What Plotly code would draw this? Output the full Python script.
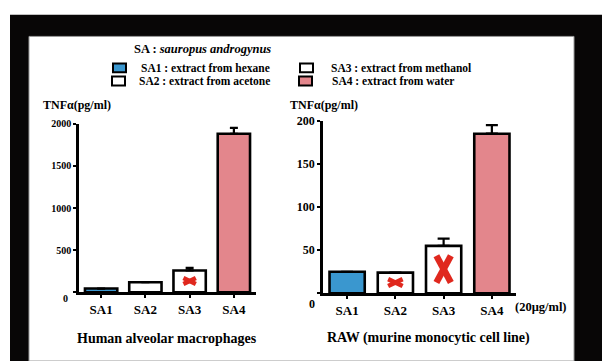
import plotly.graph_objects as go

# ---- data -------------------------------------------------------------
categories = ["SA1", "SA2", "SA3", "SA4"]
bar_colors = ["#3a97cf", "#ffffff", "#ffffff", "#e3868c"]

# Human alveolar macrophages, TNF-alpha (pg/ml)
human_values = [45, 120, 260, 1880]
human_errors = [None, None, 30, 70]

# RAW murine monocytic cell line, TNF-alpha (pg/ml)
raw_values = [25, 24, 55, 185]
raw_errors = [None, None, 8.5, 10]

human_ticks = [0, 500, 1000, 1500, 2000]
raw_ticks = [0, 50, 100, 150, 200]

legend_labels = [
    "SA1 : extract from hexane",
    "SA2 : extract from acetone",
    "SA3 : extract from methanol",
    "SA4 : extract from water",
]

# red cross markers: (panel, category, level)
cross_marks = [("human", "SA3", 135), ("raw", "SA2", 12.5), ("raw", "SA3", 28)]

# ---- styling ----------------------------------------------------------
W, H = 602, 361
SERIF = "Liberation Serif"
RED = "#e0281e"


def px(x):
    return x / W


def py(y):
    return 1 - y / H


def bold(size):
    return dict(family=SERIF, size=size, color="black", weight="bold")


fig = go.Figure()

panels = {
    "human": dict(values=human_values, errors=human_errors, xa="x", ya="y", err_w=4),
    "raw": dict(values=raw_values, errors=raw_errors, xa="x2", ya="y2", err_w=6),
}

xpos = list(range(len(categories)))

for name, p in panels.items():
    errs = [e if e is not None else float("nan") for e in p["errors"]]
    fig.add_trace(go.Bar(
        x=xpos, y=p["values"], width=0.73,
        marker=dict(color=bar_colors, line=dict(color="black", width=2.6)),
        error_y=dict(type="data", array=errs, arrayminus=[0] * len(errs),
                     symmetric=False, color="black", thickness=2.2,
                     width=p["err_w"]),
        xaxis=p["xa"], yaxis=p["ya"], showlegend=False, hoverinfo="skip",
    ))

# crosses drawn as two crossing strokes around each mark's centre
cross_style = {
    ("human", "SA3"): dict(hw=0.14, hh=35, lw=4.5),
    ("raw", "SA2"): dict(hw=0.15, hh=4.0, lw=4.5),
    ("raw", "SA3"): dict(hw=0.15, hh=15.5, lw=6.5),
}
for panel, cat, level in cross_marks:
    s = cross_style[(panel, cat)]
    xc = categories.index(cat)
    xs = [xc - s["hw"], xc + s["hw"], None, xc - s["hw"], xc + s["hw"]]
    ys = [level - s["hh"], level + s["hh"], None, level + s["hh"], level - s["hh"]]
    fig.add_trace(go.Scatter(
        x=xs, y=ys, mode="lines", line=dict(color=RED, width=s["lw"]),
        xaxis=panels[panel]["xa"], yaxis=panels[panel]["ya"],
        showlegend=False, hoverinfo="skip",
    ))

axis_common = dict(showline=True, linecolor="black", linewidth=2.6,
                   ticks="outside", tickcolor="black", tickwidth=1.5,
                   showgrid=False, zeroline=False, fixedrange=True)

fig.update_layout(
    width=W, height=H,
    margin=dict(l=0, r=0, t=0, b=0),
    paper_bgcolor="white", plot_bgcolor="rgba(0,0,0,0)",
    barmode="overlay",
    xaxis=dict(domain=[px(79), px(256)], anchor="y", range=[-0.5, 3.5],
               tickvals=xpos, ticktext=categories, ticklen=3,
               tickfont=bold(13), **axis_common),
    yaxis=dict(domain=[py(291), py(119)], anchor="x", range=[0, 2000],
               tickvals=human_ticks,
               ticktext=[""] + [str(t) for t in human_ticks[1:]],
               ticklen=3, tickfont=bold(10), **axis_common),
    xaxis2=dict(domain=[px(323), px(516)], anchor="y2", range=[-0.5, 3.5],
                tickvals=xpos, ticktext=categories, ticklen=3,
                tickfont=bold(13), **axis_common),
    yaxis2=dict(domain=[py(292), py(116)], anchor="x2", range=[0, 200],
                tickvals=raw_ticks,
                ticktext=[""] + [str(t) for t in raw_ticks[1:]],
                ticklen=3, tickfont=bold(12), **axis_common),
)

# black frame with white panel
fig.add_shape(type="rect", xref="paper", yref="paper", layer="below",
              x0=px(10), x1=1, y0=0, y1=py(8),
              fillcolor="#080606", line=dict(width=0))
fig.add_shape(type="rect", xref="paper", yref="paper", layer="below",
              x0=px(29), x1=px(574), y0=0, y1=py(30),
              fillcolor="white", line=dict(color="#9a9a9a", width=1))

annotations = []


def text(x, y, s, size, xanchor="left", **kw):
    annotations.append(dict(x=px(x), y=py(y), xref="paper", yref="paper",
                            text=s, showarrow=False, xanchor=xanchor,
                            yanchor="middle", font=bold(size), borderpad=0,
                            **kw))


# zero labels sit a little below the baseline
annotations.append(dict(x=0, y=0, xref="x domain", yref="y", text="0",
                        showarrow=False, xanchor="right", yanchor="middle",
                        xshift=-9, yshift=-6, font=bold(10)))
annotations.append(dict(x=0, y=0, xref="x2 domain", yref="y2", text="0",
                        showarrow=False, xanchor="right", yanchor="middle",
                        xshift=-6, yshift=-11, font=bold(12)))

# legend
text(133, 43, "SA : <i>sauropus androgynus</i>", 12.5)
legend_pos = [(113, 62, 140), (112, 75.5, 138), (300, 62, 330), (299, 75.5, 331)]
for label, color, (bx, by, tx) in zip(legend_labels, bar_colors, legend_pos):
    fig.add_shape(type="rect", xref="paper", yref="paper",
                  x0=px(bx), x1=px(bx + 13), y0=py(by + 4.5), y1=py(by - 4.5),
                  fillcolor=color, line=dict(color="black", width=2))
    text(tx, by, label, 11.5)

# axis titles
text(42, 100, "TNFα(pg/ml)", 12)
text(289, 100, "TNFα(pg/ml)", 12)
text(514, 306, "(20μg/ml)", 12.5)

# panel captions
text(167, 338, "Human alveolar macrophages", 14, xanchor="center")
text(429, 338, "RAW (murine monocytic cell line)", 14, xanchor="center")

fig.update_layout(annotations=annotations)

fig.write_html("out.html")
